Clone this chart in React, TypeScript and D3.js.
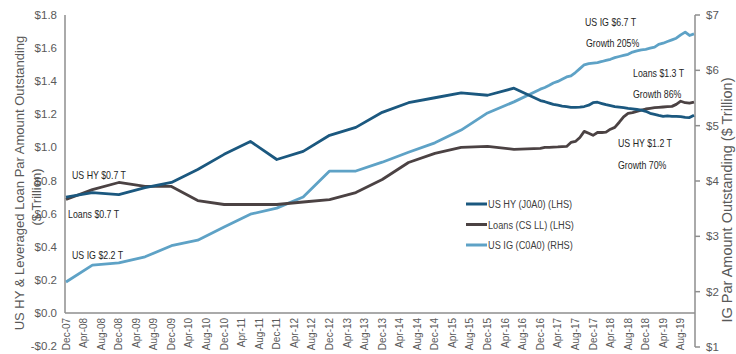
import React from "react";
import * as d3 from "d3";

// ---------- data ----------
const dates: string[] = [
  "2007-12", "2008-06", "2008-12", "2009-06", "2009-12", "2010-06", "2010-12",
  "2011-06", "2011-12", "2012-06", "2012-12", "2013-06", "2013-12", "2014-06",
  "2014-12", "2015-06", "2015-12", "2016-06", "2016-12",
  "2017-01", "2017-02", "2017-03", "2017-04", "2017-05", "2017-06",
  "2017-07", "2017-08", "2017-09", "2017-10", "2017-11", "2017-12",
  "2018-01", "2018-02", "2018-03", "2018-04", "2018-05", "2018-06",
  "2018-07", "2018-08", "2018-09", "2018-10", "2018-11", "2018-12",
  "2019-01", "2019-02", "2019-03", "2019-04", "2019-05", "2019-06",
  "2019-07", "2019-08", "2019-09", "2019-10", "2019-11",
];

// US HY (J0A0), $ trillion, left axis
const hyValues: number[] = [
  0.70, 0.727, 0.715, 0.757, 0.788, 0.867, 0.958, 1.036, 0.927, 0.976, 1.073,
  1.121, 1.212, 1.27, 1.30, 1.33, 1.315, 1.358, 1.283,
  1.276, 1.268, 1.26, 1.255, 1.25, 1.246, 1.242, 1.242, 1.243, 1.247, 1.255, 1.27,
  1.273, 1.265, 1.258, 1.252, 1.246, 1.243, 1.24, 1.236, 1.233, 1.229, 1.225, 1.218,
  1.206, 1.2, 1.194, 1.188, 1.19, 1.188, 1.188, 1.186, 1.182, 1.18, 1.194,
];

// Loans (CS LL), $ trillion, left axis
const loanValues: number[] = [
  0.685, 0.745, 0.788, 0.764, 0.764, 0.679, 0.655, 0.655, 0.655, 0.67, 0.685,
  0.727, 0.806, 0.909, 0.964, 1.0, 1.006, 0.988, 0.994,
  1.0, 1.0, 1.002, 1.003, 1.005, 1.006, 1.03, 1.036, 1.06, 1.097, 1.085, 1.073,
  1.09, 1.09, 1.092, 1.11, 1.121, 1.152, 1.185, 1.206, 1.21, 1.218, 1.225, 1.232,
  1.236, 1.24, 1.242, 1.244, 1.246, 1.248, 1.26, 1.279, 1.27, 1.267, 1.273,
];

// US IG (C0A0), $ trillion, right axis
const igValues: number[] = [
  2.175, 2.48, 2.52, 2.63, 2.83, 2.93, 3.17, 3.40, 3.51, 3.71, 4.18,
  4.18, 4.34, 4.52, 4.69, 4.92, 5.23, 5.43, 5.66,
  5.69, 5.73, 5.77, 5.80, 5.84, 5.88, 5.90, 5.96, 6.03, 6.10, 6.12, 6.13,
  6.14, 6.16, 6.18, 6.20, 6.23, 6.25, 6.27, 6.29, 6.33, 6.35, 6.37, 6.38,
  6.40, 6.42, 6.47, 6.49, 6.52, 6.55, 6.58, 6.64, 6.69, 6.63, 6.66,
];

const leftTicks: number[] = [-0.2, 0, 0.2, 0.4, 0.6, 0.8, 1.0, 1.2, 1.4, 1.6, 1.8];
const rightTicks: number[] = [1, 2, 3, 4, 5, 6, 7];

const xTickLabels: string[] = [
  "Dec-07", "Apr-08", "Aug-08", "Dec-08", "Apr-09", "Aug-09", "Dec-09", "Apr-10",
  "Aug-10", "Dec-10", "Apr-11", "Aug-11", "Dec-11", "Apr-12", "Aug-12", "Dec-12",
  "Apr-13", "Aug-13", "Dec-13", "Apr-14", "Aug-14", "Dec-14", "Apr-15", "Aug-15",
  "Dec-15", "Apr-16", "Aug-16", "Dec-16", "Apr-17", "Aug-17", "Dec-17", "Apr-18",
  "Aug-18", "Dec-18", "Apr-19", "Aug-19",
];

const seriesNames: string[] = ["US HY (J0A0) (LHS)", "Loans (CS LL) (LHS)", "US IG (C0A0) (RHS)"];
const seriesColors: string[] = ["#1b587f", "#4b4243", "#5ea2c6"];

const annotations: { text: string; x: number; y: number }[] = [
  { text: "US HY $0.7 T", x: 72, y: 179 },
  { text: "Loans $0.7 T", x: 68, y: 218 },
  { text: "US IG $2.2 T", x: 72, y: 259 },
  { text: "US IG $6.7 T", x: 585, y: 26 },
  { text: "Growth 205%", x: 586, y: 47 },
  { text: "Loans $1.3 T", x: 633, y: 77 },
  { text: "Growth 86%", x: 633, y: 98 },
  { text: "US HY $1.2 T", x: 618, y: 147 },
  { text: "Growth 70%", x: 618, y: 169 },
];

// ---------- layout ----------
const W = 736;
const H = 354;
const FONT = "'Liberation Sans', Arial, sans-serif";
const parseMonth = d3.timeParse("%Y-%m");
const monthFmt = d3.timeFormat("%b-%y");

const x = d3
  .scaleTime()
  .domain([parseMonth("2007-12")!, parseMonth("2019-11")!])
  .range([66, 694]);
const yL = d3.scaleLinear().domain([-0.2, 1.8]).range([346, 15]);
const yR = d3.scaleLinear().domain([1, 7]).range([347, 15]);

const axisColor = "#8e8e8e";
const tickText = "#595959";

function Narrow({ x: tx, y: ty, children, size = 11, fill = "#262626" }: any) {
  return (
    <text
      transform={`translate(${tx},${ty}) scale(0.8,1)`}
      fontFamily={FONT}
      fontSize={size}
      fill={fill}
    >
      {children}
    </text>
  );
}

export default function App() {
  const parsed = dates.map((d) => parseMonth(d)!);
  const lineL = d3
    .line<number>()
    .x((_, i) => x(parsed[i]))
    .y((v) => yL(v));
  const lineR = d3
    .line<number>()
    .x((_, i) => x(parsed[i]))
    .y((v) => yR(v));

  const start = parseMonth("2007-12")!;
  const xTickDates = xTickLabels.map((_, i) => d3.timeMonth.offset(start, i * 4));

  const plotLeft = 65;
  const plotRight = 695;
  const y0 = yL(0);

  return (
    <svg
      width={W}
      height={H}
      viewBox={`0 0 ${W} ${H}`}
      style={{ position: "absolute", left: 0, top: 0, background: "#fff" }}
    >
      {/* axes */}
      <line x1={plotLeft} x2={plotLeft} y1={yL(1.8)} y2={y0} stroke={axisColor} strokeWidth={1.5} />
      <line x1={plotLeft} x2={plotRight} y1={y0} y2={y0} stroke={axisColor} strokeWidth={1.5} />
      <line x1={plotRight} x2={plotRight} y1={yR(7)} y2={yR(1)} stroke={axisColor} strokeWidth={1.5} />
      {rightTicks.map((t) => (
        <line key={"rt" + t} x1={plotRight} x2={plotRight + 5} y1={yR(t)} y2={yR(t)} stroke={axisColor} strokeWidth={1.5} />
      ))}

      {/* left tick labels */}
      {leftTicks.map((t) => (
        <text
          key={"lt" + t}
          x={57}
          y={yL(t) + 4}
          textAnchor="end"
          fontFamily={FONT}
          fontSize={11.5}
          fill={tickText}
        >
          {(t < 0 ? "-$" : "$") + Math.abs(t).toFixed(1)}
        </text>
      ))}

      {/* right tick labels */}
      {rightTicks.map((t) => (
        <text
          key={"rl" + t}
          x={706}
          y={yR(t) + 4}
          fontFamily={FONT}
          fontSize={11.5}
          fill={tickText}
        >
          {"$" + t}
        </text>
      ))}

      {/* x tick labels */}
      {xTickDates.map((d, i) => (
        <text
          key={"xt" + i}
          transform={`translate(${x(d) + 3.5},${y0 + 5}) rotate(-90)`}
          textAnchor="end"
          fontFamily={FONT}
          fontSize={10}
          fill={tickText}
        >
          {xTickLabels[i] || monthFmt(d)}
        </text>
      ))}

      {/* axis titles */}
      <text
        transform={`translate(24,183) rotate(-90)`}
        textAnchor="middle"
        fontFamily={FONT}
        fontSize={13}
        fill={tickText}
      >
        US HY &amp; Leveraged Loan Par Amount Outstanding
      </text>
      <text
        transform={`translate(41,197) rotate(-90)`}
        textAnchor="middle"
        fontFamily={FONT}
        fontSize={13}
        fill={tickText}
      >
        ($ Trillion)
      </text>
      <text
        transform={`translate(732,200) rotate(-90)`}
        textAnchor="middle"
        fontFamily={FONT}
        fontSize={14.5}
        fill={tickText}
      >
        IG Par Amount Outstanding ($ Trillion)
      </text>

      {/* series */}
      <path d={lineR(igValues) || ""} fill="none" stroke={seriesColors[2]} strokeWidth={2.8} strokeLinejoin="round" />
      <path d={lineL(loanValues) || ""} fill="none" stroke={seriesColors[1]} strokeWidth={2.8} strokeLinejoin="round" />
      <path d={lineL(hyValues) || ""} fill="none" stroke={seriesColors[0]} strokeWidth={2.8} strokeLinejoin="round" />

      {/* annotations */}
      {annotations.map((a) => (
        <Narrow key={a.text} x={a.x} y={a.y}>
          {a.text}
        </Narrow>
      ))}

      {/* legend */}
      {seriesNames.map((name, i) => {
        const ly = 204 + i * 20.5;
        return (
          <g key={name}>
            <line x1={466} x2={487} y1={ly} y2={ly} stroke={seriesColors[i]} strokeWidth={3} />
            <Narrow x={488} y={ly + 4} size={11.5} fill="#404040">
              {name}
            </Narrow>
          </g>
        );
      })}
    </svg>
  );
}
